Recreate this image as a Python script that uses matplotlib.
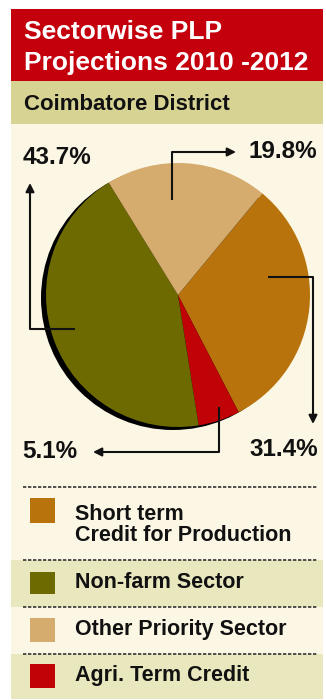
import matplotlib
matplotlib.use("Agg")
import matplotlib.pyplot as plt
from matplotlib.patches import Rectangle, Circle

# ---- data ----
title_lines = ["Sectorwise PLP", "Projections 2010 -2012"]
subtitle = "Coimbatore District"
categories = ["Short term\nCredit for Production", "Non-farm Sector",
              "Other Priority Sector", "Agri. Term Credit"]
values = [31.4, 43.7, 19.8, 5.1]
colors = ["#B9730C", "#6D6A02", "#D5AB6E", "#BF0306"]
pie_order = [0, 3, 1, 2]   # clockwise from start angle: orange, red, green, tan

FONT = ["Liberation Sans", "DejaVu Sans"]
W, H = 326, 700
def Y(y):
    return H - y

fig = plt.figure(figsize=(W / 100, H / 100), dpi=100)
fig.patch.set_facecolor("white")
ax = fig.add_axes([0, 0, 1, 1])

cream = "#FCF7E5"
band_green = "#E8E7BD"

# pie with shadow
cx, cy, r = 178, Y(295), 132
ax.add_patch(Circle((cx - 5, cy - 3), r, fc="black", ec="none", zorder=2))
ax.pie([values[i] for i in pie_order], colors=[colors[i] for i in pie_order],
       startangle=50.4, counterclock=False, center=(cx, cy), radius=r,
       wedgeprops=dict(linewidth=0, zorder=3), frame=True)
ax.set_xlim(0, W)
ax.set_ylim(0, H)
ax.set_aspect("equal")
ax.axis("off")

# panel
ax.add_patch(Rectangle((11, Y(699)), 312, 690, fc=cream, ec="none", zorder=0))
ax.add_patch(Rectangle((11, Y(81)), 312, 72, fc="#C3000C", ec="none", zorder=1))
ax.add_patch(Rectangle((11, Y(124)), 312, 43, fc="#D7D393", ec="none", zorder=1))

ax.text(24, Y(32), title_lines[0], color="white", fontsize=19, fontweight="bold",
        family=FONT, va="center", ha="left", zorder=3)
ax.text(24, Y(63), title_lines[1], color="white", fontsize=19, fontweight="bold",
        family=FONT, va="center", ha="left", zorder=3)
ax.text(24, Y(104), subtitle, color="#111111", fontsize=16, fontweight="bold",
        family=FONT, va="center", ha="left", zorder=3)

lab_kw = dict(fontsize=17.5, fontweight="bold", family=FONT, color="#111111",
              va="center", zorder=5)
def elbow(points):
    xs = [p[0] for p in points]
    ys = [Y(p[1]) for p in points]
    ax.plot(xs[:-1], ys[:-1], color="#111111", lw=1.5, zorder=5,
            solid_capstyle="butt")
    ax.annotate("", xy=(xs[-1], ys[-1]), xytext=(xs[-2], ys[-2]),
                arrowprops=dict(arrowstyle="-|>,head_length=0.5,head_width=0.25",
                                color="#111111", lw=1.5, shrinkA=0, shrinkB=0),
                zorder=5)

# 43.7% (Non-farm)
ax.text(23, Y(157), f"{values[1]}%", ha="left", **lab_kw)
elbow([(75, 329), (30, 329), (30, 183)])
# 19.8% (Other Priority)
ax.text(249, Y(151), f"{values[2]}%", ha="left", **lab_kw)
elbow([(172, 200), (172, 152), (236, 152)])
# 31.4% (Short term)
ax.text(249, Y(450), f"{values[0]}%", ha="left", **lab_kw)
elbow([(268, 277), (313, 277), (313, 424)])
# 5.1% (Agri)
ax.text(22, Y(452), f"{values[3]}%", ha="left", **lab_kw)
elbow([(219, 407), (219, 452), (93, 452)])

# legend
ax.add_patch(Rectangle((11, Y(607)), 312, 47, fc=band_green, ec="none", zorder=1))
ax.add_patch(Rectangle((11, Y(699)), 312, 45, fc=band_green, ec="none", zorder=1))
for yl in [487, 560, 607, 654]:
    ax.plot([23, 318], [Y(yl), Y(yl)], color="#333333", lw=1.2,
            dashes=(2, 1), zorder=4)
rows = [(498, 523, 525), (572, 594, 583), (618, 642, 630), (664, 688, 676)]
for i, (y0, y1, yt) in enumerate(rows):
    ax.add_patch(Rectangle((30, Y(y1)), 25, y1 - y0, fc=colors[i], ec="none", zorder=4))
    ax.text(75, Y(yt), categories[i], fontsize=15.5, fontweight="bold", family=FONT,
            color="#111111", va="center", ha="left", linespacing=1.05, zorder=5)

fig.savefig("out.png", dpi=100, facecolor="white")
